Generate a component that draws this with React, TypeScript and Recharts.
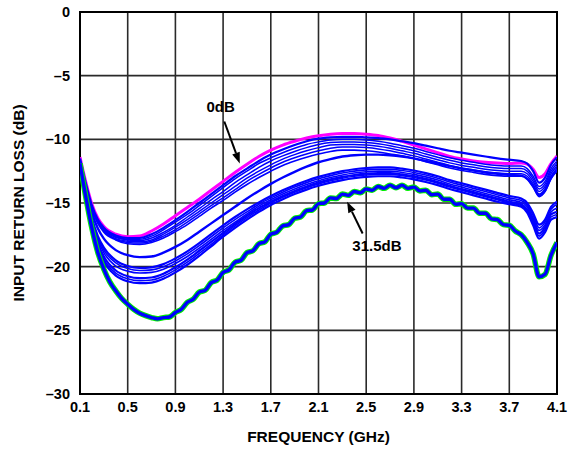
import { LineChart, Line, XAxis, YAxis, CartesianGrid, ReferenceArea, ReferenceLine, ReferenceDot } from 'recharts';

// frequency grid (GHz) used by most of the sweeps
const FREQ = [
    0.1, 0.15, 0.2, 0.25, 0.3,
    0.4, 0.5, 0.6, 0.7, 0.8, 0.9, 1.0, 1.1, 1.2, 1.3,
    1.4, 1.5, 1.6, 1.7, 1.8, 1.9, 2.0, 2.1, 2.2, 2.3,
    2.4, 2.5, 2.6, 2.7, 2.8, 2.9, 3.0, 3.1, 3.2, 3.3,
    3.4, 3.5, 3.6, 3.7, 3.8,
    3.85, 3.9, 3.95, 4.0, 4.05, 4.1,
];

// 0dB attenuation (magenta)
const LOSS_0DB = [
    -11.4, -13.4, -15.1, -16.2, -16.85,
    -17.45, -17.65, -17.6, -17.2, -16.65, -16.0, -15.35, -14.7, -14.0, -13.3,
    -12.6, -11.95, -11.35, -10.85, -10.45, -10.15, -9.9, -9.72, -9.6, -9.55,
    -9.55, -9.6, -9.7, -9.9, -10.15, -10.45, -10.75, -11.05, -11.35, -11.55,
    -11.7, -11.8, -11.85, -11.9, -11.85,
    -11.95, -12.35, -13.0, -12.7, -11.9, -11.3,
];

// upper family of attenuation settings
const UPPER_1 = [
    -11.5, -13.5, -15.2, -16.3, -16.95,
    -17.55, -17.75, -17.75, -17.45, -16.95, -16.35, -15.7, -15.0, -14.3, -13.6,
    -12.9, -12.3, -11.7, -11.2, -10.8, -10.45, -10.15, -9.95, -9.85, -9.8,
    -9.8, -9.85, -9.9, -10.0, -10.15, -10.3, -10.5, -10.7, -10.9, -11.05,
    -11.2, -11.35, -11.5, -11.6, -11.7,
    -11.9, -12.5, -13.4, -13.0, -12.0, -11.4,
];
const UPPER_2 = [
    -11.6, -13.55, -15.3, -16.4, -17.05,
    -17.65, -17.85, -17.85, -17.6, -17.1, -16.5, -15.9, -15.2, -14.5, -13.8,
    -13.1, -12.5, -11.9, -11.45, -11.05, -10.7, -10.4, -10.2, -10.05, -10.0,
    -10.0, -10.05, -10.15, -10.3, -10.5, -10.7, -10.95, -11.2, -11.45, -11.65,
    -11.8, -11.95, -12.05, -12.1, -12.1,
    -12.3, -12.9, -13.7, -13.3, -12.3, -11.7,
];
const UPPER_3 = [
    -11.6, -13.6, -15.35, -16.45, -17.1,
    -17.7, -17.9, -17.95, -17.75, -17.3, -16.75, -16.1, -15.45, -14.75, -14.1,
    -13.4, -12.8, -12.2, -11.7, -11.3, -10.95, -10.65, -10.4, -10.25, -10.2,
    -10.2, -10.25, -10.35, -10.5, -10.7, -10.9, -11.15, -11.4, -11.65, -11.85,
    -12.0, -12.15, -12.25, -12.3, -12.3,
    -12.5, -13.1, -13.9, -13.5, -12.5, -11.9,
];
const UPPER_4 = [
    -11.7, -13.65, -15.4, -16.5, -17.15,
    -17.8, -18.0, -18.05, -17.9, -17.45, -16.9, -16.3, -15.65, -15.0, -14.35,
    -13.7, -13.05, -12.5, -12.0, -11.55, -11.2, -10.9, -10.65, -10.45, -10.4,
    -10.4, -10.45, -10.55, -10.7, -10.9, -11.1, -11.35, -11.6, -11.85, -12.05,
    -12.2, -12.35, -12.45, -12.5, -12.5,
    -12.7, -13.3, -14.1, -13.7, -12.7, -12.1,
];
const UPPER_5 = [
    -11.7, -13.7, -15.45, -16.55, -17.2,
    -17.85, -18.1, -18.15, -18.0, -17.6, -17.1, -16.5, -15.85, -15.2, -14.6,
    -13.95, -13.3, -12.75, -12.25, -11.8, -11.45, -11.15, -10.9, -10.7, -10.6,
    -10.6, -10.65, -10.75, -10.9, -11.1, -11.3, -11.55, -11.8, -12.05, -12.25,
    -12.4, -12.55, -12.65, -12.7, -12.7,
    -12.9, -13.5, -14.3, -13.9, -12.9, -12.3,
];
const UPPER_6 = [
    -11.8, -13.75, -15.5, -16.6, -17.3,
    -17.9, -18.2, -18.25, -18.1, -17.75, -17.25, -16.7, -16.05, -15.4, -14.8,
    -14.15, -13.55, -13.0, -12.5, -12.05, -11.7, -11.4, -11.15, -10.95, -10.85,
    -10.85, -10.9, -11.0, -11.15, -11.3, -11.5, -11.75, -12.0, -12.25, -12.45,
    -12.6, -12.75, -12.85, -12.9, -12.9,
    -13.1, -13.7, -14.5, -14.1, -13.1, -12.5,
];
const UPPER_7 = [
    -11.9, -14.0, -15.8, -17.0, -17.8,
    -18.7, -19.1, -19.25, -19.2, -18.9, -18.45, -17.9, -17.25, -16.6, -15.95,
    -15.3, -14.65, -14.05, -13.5, -13.0, -12.55, -12.15, -11.8, -11.55, -11.35,
    -11.25, -11.2, -11.2, -11.25, -11.35, -11.5, -11.7, -11.9, -12.1, -12.3,
    -12.45, -12.6, -12.7, -12.8, -12.85,
    -13.1, -13.7, -14.4, -14.0, -13.0, -12.4,
];

// middle family
const MID_1 = [
    -11.8, -14.2, -16.2, -17.6, -18.5,
    -19.5, -19.95, -20.1, -20.05, -19.8, -19.35, -18.8, -18.15, -17.45, -16.75,
    -16.1, -15.5, -14.95, -14.45, -14.0, -13.6, -13.25, -12.95, -12.7, -12.5,
    -12.35, -12.25, -12.2, -12.2, -12.3, -12.45, -12.65, -12.9, -13.2, -13.45,
    -13.7, -13.95, -14.2, -14.45, -14.65,
    -15.0, -15.8, -16.7, -16.3, -15.3, -14.9,
];
const MID_2 = [
    -11.8, -14.3, -16.35, -17.75, -18.7,
    -19.7, -20.15, -20.3, -20.25, -20.0, -19.55, -19.0, -18.35, -17.65, -16.95,
    -16.3, -15.7, -15.1, -14.6, -14.15, -13.75, -13.4, -13.1, -12.85, -12.65,
    -12.5, -12.4, -12.35, -12.35, -12.45, -12.6, -12.8, -13.05, -13.35, -13.6,
    -13.85, -14.1, -14.35, -14.6, -14.8,
    -15.15, -16.0, -16.95, -16.5, -15.5, -15.1,
];
const MID_3 = [
    -11.9, -14.4, -16.5, -17.9, -18.9,
    -19.95, -20.35, -20.5, -20.45, -20.2, -19.75, -19.2, -18.55, -17.85, -17.15,
    -16.5, -15.85, -15.25, -14.75, -14.3, -13.9, -13.55, -13.25, -13.0, -12.8,
    -12.65, -12.55, -12.5, -12.5, -12.6, -12.75, -12.95, -13.2, -13.5, -13.75,
    -14.0, -14.25, -14.5, -14.75, -14.95,
    -15.3, -16.2, -17.15, -16.7, -15.7, -15.4,
];
const MID_4 = [
    -11.9, -14.5, -16.7, -18.15, -19.2,
    -20.3, -20.75, -20.9, -20.85, -20.55, -20.05, -19.45, -18.75, -18.05, -17.35,
    -16.65, -16.0, -15.4, -14.9, -14.45, -14.05, -13.7, -13.4, -13.15, -12.95,
    -12.8, -12.7, -12.65, -12.65, -12.75, -12.9, -13.1, -13.35, -13.65, -13.9,
    -14.15, -14.4, -14.65, -14.9, -15.1,
    -15.5, -16.4, -17.4, -16.9, -15.9, -15.7,
];
const MID_5 = [
    -12.0, -14.6, -16.85, -18.3, -19.4,
    -20.5, -20.95, -21.1, -21.05, -20.75, -20.25, -19.65, -18.95, -18.25, -17.5,
    -16.8, -16.15, -15.55, -15.0, -14.55, -14.15, -13.8, -13.5, -13.25, -13.05,
    -12.9, -12.8, -12.75, -12.75, -12.85, -13.0, -13.2, -13.45, -13.75, -14.0,
    -14.25, -14.5, -14.75, -15.0, -15.2,
    -15.6, -16.55, -17.6, -17.1, -16.1, -15.9,
];
const MID_6 = [
    -12.0, -14.7, -17.0, -18.5, -19.6,
    -20.7, -21.15, -21.3, -21.25, -20.95, -20.45, -19.85, -19.15, -18.4, -17.65,
    -16.95, -16.3, -15.7, -15.15, -14.7, -14.3, -13.95, -13.65, -13.4, -13.2,
    -13.05, -12.95, -12.9, -12.9, -13.0, -13.15, -13.35, -13.6, -13.9, -14.15,
    -14.4, -14.65, -14.9, -15.1, -15.3,
    -15.75, -16.75, -17.8, -17.3, -16.3, -16.1,
];

// 31.5dB sweep, read on a finer grid to keep its ripple
const FREQ_FINE = [
    0.1, 0.15, 0.2, 0.25, 0.3, 0.35, 0.4, 0.45, 0.5, 0.55,
    0.6, 0.65, 0.7, 0.75, 0.8, 0.85, 0.9, 0.95, 1.0, 1.05,
    1.1, 1.15, 1.2, 1.25, 1.3, 1.35, 1.4, 1.45, 1.5, 1.55,
    1.6, 1.65, 1.7, 1.75, 1.8, 1.85, 1.9, 1.95, 2.0, 2.05,
    2.1, 2.15, 2.2, 2.25, 2.3, 2.35, 2.4, 2.45, 2.5, 2.55,
    2.6, 2.65, 2.7, 2.75, 2.8, 2.85, 2.9, 2.95, 3.0, 3.05,
    3.1, 3.15, 3.2, 3.25, 3.3, 3.35, 3.4, 3.45, 3.5, 3.55,
    3.6, 3.65, 3.7, 3.75, 3.8, 3.85, 3.9, 3.95, 4.0, 4.05,
    4.1,
];
const LOSS_31_5DB = [
    -11.9, -14.6, -17.0, -18.9, -20.2, -21.2, -21.9, -22.5, -22.95, -23.35,
    -23.65, -23.85, -24.0, -24.1, -24.0, -23.95, -23.6, -23.35, -22.8, -22.55,
    -22.0, -21.85, -21.25, -21.05, -20.45, -20.25, -19.65, -19.5, -18.9, -18.75,
    -18.2, -18.05, -17.45, -17.3, -16.8, -16.7, -16.2, -16.1, -15.6, -15.55,
    -15.05, -15.0, -14.6, -14.65, -14.3, -14.4, -14.1, -14.2, -13.9, -14.0,
    -13.7, -13.85, -13.6, -13.8, -13.6, -13.85, -13.75, -14.05, -14.0, -14.35,
    -14.3, -14.7, -14.7, -15.1, -15.05, -15.4, -15.4, -15.8, -15.8, -16.25,
    -16.3, -16.7, -16.75, -17.2, -17.5, -18.1, -19.0, -20.8, -20.6, -19.1,
    -18.1,
];

const X_TICKS = [0.1, 0.5, 0.9, 1.3, 1.7, 2.1, 2.5, 2.9, 3.3, 3.7, 4.1];
const Y_TICKS = [-30, -25, -20, -15, -10, -5, 0];

const BLUE = '#0000FF';
const MAGENTA = '#FF00FF';
const GREEN = '#00EE00';
const FONT = '"Liberation Sans", Arial, Helvetica, sans-serif';

const UPPER = [UPPER_1, UPPER_2, UPPER_3, UPPER_4, UPPER_5, UPPER_6, UPPER_7];
const MIDDLE = [MID_1, MID_2, MID_3, MID_4, MID_5, MID_6];
const UPPER_WIDTH = [2.2, 1.5, 1.5, 1.5, 1.5, 1.6, 2.4];
const MID_WIDTH = [2.2, 1.6, 1.6, 2.2, 1.6, 2.2];

const rows = FREQ.map((f, i) => {
    const row: Record<string, number> = { f, db0: LOSS_0DB[i] };
    UPPER.forEach((s, k) => (row[`u${k}`] = s[i]));
    MIDDLE.forEach((s, k) => (row[`m${k}`] = s[i]));
    return row;
});
const fineRows = FREQ_FINE.map((f, i) => ({ f, db315: LOSS_31_5DB[i] }));

function Arrow(props: any) {
    const { x1, y1, x2, y2 } = props;
    const ang = Math.atan2(y2 - y1, x2 - x1);
    const len = 11;
    const half = 4;
    const bx = x2 - len * Math.cos(ang);
    const by = y2 - len * Math.sin(ang);
    const px = -Math.sin(ang) * half;
    const py = Math.cos(ang) * half;
    return (
        <g>
            <line x1={x1} y1={y1} x2={bx} y2={by} stroke="#000" strokeWidth={2} />
            <polygon points={`${x2},${y2} ${bx + px},${by + py} ${bx - px},${by - py}`} fill="#000" />
        </g>
    );
}

function YTitle(props: any) {
    const { viewBox } = props;
    const cx = viewBox.x + 18;
    const cy = viewBox.y + viewBox.height / 2;
    return (
        <text x={cx} y={cy} transform={`rotate(-90, ${cx}, ${cy})`} textAnchor="middle" dominantBaseline="central"
            fontFamily={FONT} fontWeight={700} fontSize={15.5} fill="#000">
            INPUT RETURN LOSS (dB)
        </text>
    );
}

function XTitle(props: any) {
    const { viewBox } = props;
    return (
        <text x={viewBox.x + viewBox.width / 2} y={viewBox.y + 48} textAnchor="middle"
            fontFamily={FONT} fontWeight={700} fontSize={15.5} fill="#000">
            FREQUENCY (GHz)
        </text>
    );
}

const tickStyle = { fill: '#000', fontSize: 14.5, fontWeight: 700, fontFamily: FONT };

export default function App() {
    return (
        <div style={{ position: 'absolute', left: 0, top: 0, width: 568, height: 449, background: '#fff' }}>
            <LineChart width={568} height={449} data={rows} margin={{ top: 12, right: 11, bottom: 0, left: 0 }}>
                <CartesianGrid stroke="#2a2a2a" strokeWidth={1.6} />
                <XAxis type="number" dataKey="f" domain={[0.1, 4.1]} ticks={X_TICKS} allowDataOverflow
                    tickFormatter={(v: number) => v.toFixed(1)} tickLine={false} axisLine={false}
                    tick={tickStyle} height={55} label={<XTitle />} />
                <YAxis type="number" domain={[-30, 0]} ticks={Y_TICKS} allowDataOverflow
                    tickFormatter={(v: number) => (v === 0 ? '0' : `\u2013${Math.abs(v)}`)}
                    tickLine={false} axisLine={false} tickMargin={4} tick={tickStyle} width={80} label={<YTitle />} />

                {MIDDLE.map((_, k) => (
                    <Line key={`m${k}`} dataKey={`m${k}`} type="monotone" stroke={BLUE} strokeWidth={MID_WIDTH[k]}
                        dot={false} activeDot={false} isAnimationActive={false} />
                ))}
                <Line dataKey="db0" type="monotone" stroke={MAGENTA} strokeWidth={3}
                    dot={false} activeDot={false} isAnimationActive={false} />
                {UPPER.map((_, k) => (
                    <Line key={`u${k}`} dataKey={`u${k}`} type="monotone" stroke={BLUE} strokeWidth={UPPER_WIDTH[k]}
                        dot={false} activeDot={false} isAnimationActive={false} />
                ))}
                <Line data={fineRows} dataKey="db315" type="monotone" stroke={GREEN} strokeWidth={5.5}
                    dot={false} activeDot={false} isAnimationActive={false} />
                <Line data={fineRows} dataKey="db315" type="monotone" stroke={BLUE} strokeWidth={3.4}
                    dot={false} activeDot={false} isAnimationActive={false} />

                <ReferenceArea x1={0.1} x2={4.1} y1={-30} y2={0} fill="none" stroke="#000" strokeWidth={2} ifOverflow="visible" />

                <ReferenceLine segment={[{ x: 1.31, y: -8.6 }, { x: 1.44, y: -11.9 }]} shape={<Arrow />} ifOverflow="visible" />
                <ReferenceLine segment={[{ x: 2.47, y: -17.4 }, { x: 2.34, y: -14.9 }]} shape={<Arrow />} ifOverflow="visible" />
                <ReferenceDot x={1.28} y={-7.4} r={0} fill="none" stroke="none"
                    label={{ value: '0dB', position: 'center', fill: '#000', fontSize: 15, fontWeight: 700, fontFamily: FONT }} />
                <ReferenceDot x={2.59} y={-18.35} r={0} fill="none" stroke="none"
                    label={{ value: '31.5dB', position: 'center', fill: '#000', fontSize: 15, fontWeight: 700, fontFamily: FONT }} />
            </LineChart>
        </div>
    );
}
